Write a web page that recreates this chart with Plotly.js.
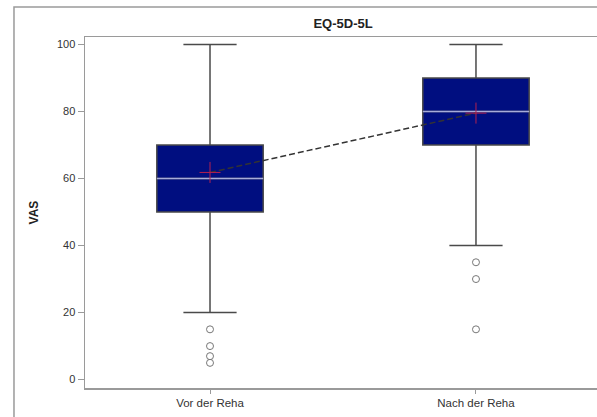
<!DOCTYPE html>
<html>
<head>
<meta charset="utf-8">
<script src="https://cdn.plot.ly/plotly-3.0.1.min.js"></script>
<style>html,body{margin:0;padding:0;background:#fff;}#chart{width:597px;height:417px;}</style>
</head>
<body>
<div id="chart"></div>
<script>
// ---- data ----
var categories = ["Vor der Reha", "Nach der Reha"];
var q1 = [50, 70];
var medians = [60, 80];
var q3 = [70, 90];
var lowerFence = [20, 40];
var upperFence = [100, 100];
var means = [61.8, 79.5];
var outliersVor = [15, 10, 7, 5];
var outliersNach = [35, 30, 15];
var yTicks = [0, 20, 40, 60, 80, 100];

var font = "Liberation Sans, Arial, sans-serif";

var outX = [], outY = [];
outliersVor.forEach(function (v) { outX.push(categories[0]); outY.push(v); });
outliersNach.forEach(function (v) { outX.push(categories[1]); outY.push(v); });

var traces = [
  {
    type: "box", x: categories, q1: q1, median: medians, q3: q3,
    lowerfence: lowerFence, upperfence: upperFence, width: 0.4,
    fillcolor: "#000e80", line: {color: "#4a4a4a", width: 1.5},
    whiskerwidth: 0.5, boxpoints: false, hoverinfo: "skip", showlegend: false
  },
  {
    type: "box", x: categories, q1: medians, median: medians, q3: medians,
    lowerfence: medians, upperfence: medians, width: 0.4,
    fillcolor: "rgba(0,0,0,0)", line: {color: "#a7acd9", width: 1.5},
    whiskerwidth: 0, boxpoints: false, hoverinfo: "skip", showlegend: false
  },
  {
    type: "scatter", mode: "lines", x: categories, y: means,
    line: {color: "#333333", width: 1.5, dash: "6px,3px"},
    hoverinfo: "skip", showlegend: false
  },
  {
    type: "scatter", mode: "markers", x: categories, y: means,
    marker: {symbol: "cross-thin-open", size: 15, color: "#b3204f", line: {color: "#b3204f", width: 1}},
    hoverinfo: "skip", showlegend: false
  },
  {
    type: "scatter", mode: "markers", x: outX, y: outY,
    marker: {symbol: "circle-open", size: 7, color: "#777777", line: {color: "#777777", width: 1}},
    hoverinfo: "skip", showlegend: false
  }
];

var layout = {
  width: 597, height: 417,
  margin: {l: 85, r: 0, t: 37, b: 29, pad: 0},
  paper_bgcolor: "#ffffff", plot_bgcolor: "#ffffff",
  font: {family: font, size: 11, color: "#333333"},
  boxmode: "overlay",
  title: {
    text: "<b>EQ-5D-5L</b>", font: {family: font, size: 13, color: "#222222"},
    xref: "paper", x: 0.504, xanchor: "center",
    yref: "container", y: 0.943, yanchor: "middle"
  },
  xaxis: {
    type: "category", range: [-0.47, 1.455],
    showline: true, linecolor: "#9a9a9a", linewidth: 1.5, mirror: true,
    ticks: "outside", ticklen: 4, tickcolor: "#9a9a9a", tickwidth: 1,
    showgrid: false, zeroline: false,
    tickfont: {family: font, size: 11.5, color: "#333333"}
  },
  yaxis: {
    range: [-2.5, 102.2], tickvals: yTicks,
    showline: true, linecolor: "#9a9a9a", linewidth: 1.5,
    ticks: "outside", ticklen: 6, tickcolor: "#9a9a9a", tickwidth: 1,
    showgrid: false, zeroline: false,
    tickfont: {family: font, size: 11, color: "#333333"},
    title: {text: "<b>VAS</b>", font: {family: font, size: 12, color: "#222222"}, standoff: 15}
  },
  shapes: [
    {type: "rect", xref: "paper", yref: "paper", x0: -0.1387, x1: 1.2, y0: -0.2, y1: 1.0855,
     line: {color: "#9a9a9a", width: 1.5}, fillcolor: "rgba(0,0,0,0)", layer: "below"}
  ]
};

Plotly.newPlot("chart", traces, layout, {staticPlot: true, displayModeBar: false});
</script>
</body>
</html>
